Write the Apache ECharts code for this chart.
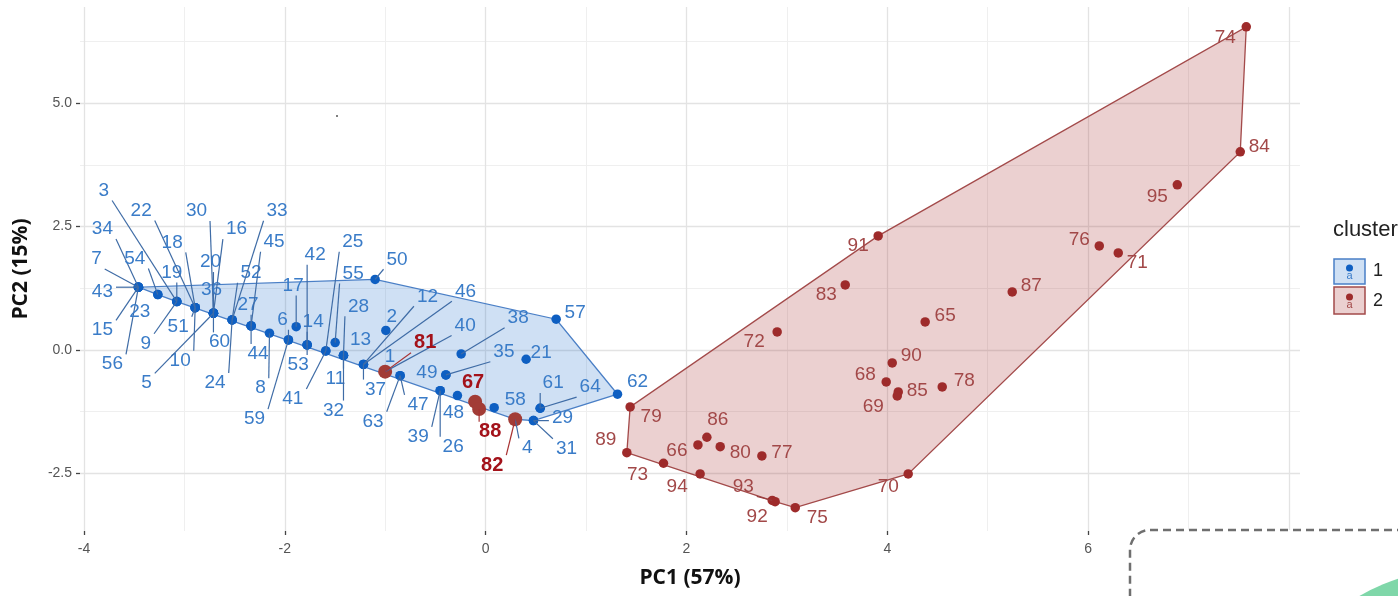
<!DOCTYPE html>
<html>
<head>
<meta charset="utf-8">
<script src="https://cdn.jsdelivr.net/npm/echarts@6/dist/echarts.min.js"></script>
<style>
  html, body { margin: 0; padding: 0; background: #fff; }
  #chart { width: 1398px; height: 596px; }
</style>
</head>
<body>
<div id="chart"></div>
<script>
// PCA scores per sample: [sample id, PC1, PC2]
const cluster1 = [
  [43, -3.458, 1.271], [7, -3.458, 1.271], [34, -3.458, 1.271], [15, -3.458, 1.271], [56, -3.458, 1.271],
  [54, -3.265, 1.121], [23, -3.265, 1.121],
  [3, -3.076, 0.979], [19, -3.076, 0.979], [9, -3.076, 0.979],
  [22, -2.893, 0.857], [18, -2.893, 0.857], [51, -2.893, 0.857], [10, -2.893, 0.857],
  [30, -2.711, 0.744], [20, -2.711, 0.744], [36, -2.711, 0.744], [16, -2.711, 0.744], [5, -2.711, 0.744], [60, -2.711, 0.744],
  [52, -2.525, 0.608], [33, -2.525, 0.608], [24, -2.525, 0.608],
  [27, -2.336, 0.487], [45, -2.336, 0.487], [44, -2.336, 0.487],
  [8, -2.153, 0.339],
  [6, -1.964, 0.203], [59, -1.964, 0.203],
  [17, -1.887, 0.472],
  [14, -1.778, 0.101], [42, -1.778, 0.101], [53, -1.778, 0.101],
  [41, -1.592, -0.020], [25, -1.592, -0.020],
  [55, -1.499, 0.148],
  [28, -1.416, -0.111], [13, -1.416, -0.111], [11, -1.416, -0.111], [32, -1.416, -0.111],
  [12, -1.217, -0.294], [46, -1.217, -0.294], [37, -1.217, -0.294],
  [50, -1.101, 1.429],
  [2, -0.994, 0.395],
  [1, -1.001, -0.440], [40, -1.001, -0.440],
  [63, -0.852, -0.521], [47, -0.852, -0.521],
  [38, -0.244, -0.081],
  [49, -0.396, -0.507], [35, -0.396, -0.507],
  [39, -0.453, -0.825], [26, -0.453, -0.825],
  [48, -0.281, -0.926],
  [58, 0.085, -1.170],
  [4, 0.294, -1.405],
  [31, 0.476, -1.433], [29, 0.476, -1.433],
  [61, 0.543, -1.182], [64, 0.543, -1.182],
  [21, 0.403, -0.189],
  [57, 0.702, 0.622],
  [62, 1.313, -0.898]
];

const cluster2 = [
  [74, 7.575, 6.548], [84, 7.515, 4.014], [95, 6.888, 3.345], [76, 6.111, 2.108], [71, 6.300, 1.966],
  [91, 3.909, 2.311], [87, 5.244, 1.176], [83, 3.581, 1.318], [65, 4.377, 0.568], [72, 2.903, 0.365],
  [90, 4.049, -0.264], [68, 3.989, -0.649], [85, 4.109, -0.851], [69, 4.099, -0.933], [78, 4.547, -0.750],
  [79, 1.439, -1.155], [89, 1.406, -2.082], [73, 1.771, -2.297], [66, 2.114, -1.926], [86, 2.203, -1.770],
  [80, 2.336, -1.960], [77, 2.751, -2.149], [94, 2.136, -2.514], [93, 2.854, -3.051], [92, 2.883, -3.075],
  [75, 3.083, -3.197], [70, 4.208, -2.514]
];

// cluster-2 samples sitting inside the cluster-1 region, highlighted
const flagged = [
  [81, -1.001, -0.440], [67, -0.105, -1.048], [88, -0.065, -1.196], [82, 0.294, -1.405]
];

// axis breaks
const xTicks = [-4, -2, 0, 2, 4, 6, 8];
const xMinor = [-3, -1, 1, 3, 5, 7];
const yTicks = [-2.5, 0, 2.5, 5];
const yMinor = [-1.25, 1.25, 3.75, 6.25];

// repelled label placement: pixel offset of each label centre from its point
const labelOffset = {
  1: [5, -15], 2: [6, -14], 3: [-73, -111], 4: [12, 29], 5: [-67, 70], 6: [-6, -20], 7: [-42, -28],
  8: [-9, 55], 9: [-31, 42], 10: [-15, 53], 11: [-8, 23], 12: [64, -68], 13: [17, -16], 14: [6, -23],
  15: [-36, 43], 16: [23, -84], 17: [-3, -41], 18: [-23, -65], 19: [-5, -29], 20: [-3, -51], 21: [15, -6],
  22: [-54, -97], 23: [-18, 17], 24: [-17, 63], 25: [27, -109], 26: [13, 56], 27: [-3, -21], 28: [15, -49],
  29: [29, -3], 30: [-17, -102], 31: [33, 28], 32: [-10, 55], 33: [45, -109], 34: [-36, -58], 35: [58, -23],
  36: [-2, -23], 37: [12, 25], 38: [57, -36], 39: [-22, 46], 40: [80, -46], 41: [-33, 48], 42: [8, -90],
  43: [-36, 5], 44: [7, 28], 45: [23, -84], 46: [102, -73], 47: [18, 29], 48: [-4, 17], 49: [-19, -2],
  50: [22, -20], 51: [-17, 19], 52: [19, -47], 53: [-9, 20], 54: [-23, -36], 55: [18, -69], 56: [-26, 77],
  57: [19, -6], 58: [21, -8], 59: [-34, 79], 60: [6, 29], 61: [13, -25], 62: [20, -12], 63: [-27, 46],
  64: [50, -21],
  81: [40, -29], 67: [-2, -19], 88: [11, 23], 82: [-23, 46],
  74: [-21, 11], 84: [19, -5], 95: [-20, 12], 76: [-20, -6], 71: [19, 10], 91: [-20, 10], 87: [19, -6],
  83: [-19, 10], 65: [20, -6], 72: [-23, 10], 90: [19, -7], 68: [-21, -7], 85: [19, -1], 78: [22, -6],
  69: [-24, 11], 79: [21, 10], 89: [-21, -13], 73: [-26, 12], 66: [-21, 6], 86: [11, -17], 80: [20, 6],
  77: [20, -3], 94: [-23, 13], 93: [-29, -14], 92: [-18, 15], 75: [22, 10], 70: [-20, 13]
};

const BLUE = '#0e5fc2';
const RED = '#9e2b2b';
const FONT = '"Liberation Sans", Arial, sans-serif';
const TITLE_FONT = '"Open Sans", Arial, sans-serif';

// Andrew's monotone chain convex hull
function convexHull(pts) {
  const p = pts.slice().sort((a, b) => a[0] - b[0] || a[1] - b[1]);
  const cross = (o, a, b) => (a[0] - o[0]) * (b[1] - o[1]) - (a[1] - o[1]) * (b[0] - o[0]);
  const lower = [], upper = [];
  for (const q of p) {
    while (lower.length >= 2 && cross(lower[lower.length - 2], lower[lower.length - 1], q) <= 0) lower.pop();
    lower.push(q);
  }
  for (let i = p.length - 1; i >= 0; i--) {
    const q = p[i];
    while (upper.length >= 2 && cross(upper[upper.length - 2], upper[upper.length - 1], q) <= 0) upper.pop();
    upper.push(q);
  }
  upper.pop(); lower.pop();
  return lower.concat(upper);
}

function hullSeries(rows, fill, stroke) {
  const hull = convexHull(rows.map(r => [r[1], r[2]]));
  return {
    type: 'custom', silent: true, z: 1, clip: false,
    data: hull,
    renderItem(params, api) {
      if (params.dataIndex !== 0) return null;
      return {
        type: 'polygon',
        shape: { points: hull.map(v => api.coord(v)) },
        style: { fill: fill, stroke: stroke, lineWidth: 1.3 }
      };
    }
  };
}

function pointSeries(rows, color, size, z) {
  return {
    type: 'scatter', z: z, silent: true,
    symbol: 'circle', symbolSize: size,
    itemStyle: { color: color, opacity: 1 },
    data: rows.map(r => [r[1], r[2]])
  };
}

function labelSeries(rows, color, lineColor, fontSize, fontWeight, minSeg) {
  return {
    type: 'custom', silent: true, z: 6, clip: false,
    data: rows.map(r => [r[1], r[2], r[0]]),
    renderItem(params, api) {
      const p = api.coord([api.value(0), api.value(1)]);
      const id = api.value(2);
      const off = labelOffset[id] || [0, -14];
      const cx = p[0] + off[0], cy = p[1] + off[1];
      const txt = String(id);
      const hw = txt.length * fontSize * 0.556 / 2 + 3;
      const hh = fontSize * 0.36 + 3;
      const nx = Math.max(cx - hw, Math.min(p[0], cx + hw));
      const ny = Math.max(cy - hh, Math.min(p[1], cy + hh));
      const children = [];
      if (Math.hypot(nx - p[0], ny - p[1]) > minSeg) {
        children.push({
          type: 'line',
          shape: { x1: p[0], y1: p[1], x2: nx, y2: ny },
          style: { stroke: lineColor, lineWidth: 1.2 }
        });
      }
      children.push({
        type: 'text', x: cx, y: cy,
        style: {
          text: txt, fill: color, fontSize: fontSize, fontWeight: fontWeight,
          fontFamily: FONT, align: 'center', verticalAlign: 'middle'
        }
      });
      return { type: 'group', children: children };
    }
  };
}

// panel grid lines (minor first, major on top), kept beneath every other layer
const gridLines = {
  type: 'scatter', z: 0, silent: true, data: [],
  markLine: {
    silent: true, z: 0, symbol: ['none', 'none'], label: { show: false }, animation: false,
    data: [
      ...xMinor.map(v => ({ xAxis: v, lineStyle: { color: '#efefef', width: 1, type: 'solid' } })),
      ...yMinor.map(v => ({ yAxis: v, lineStyle: { color: '#efefef', width: 1, type: 'solid' } })),
      ...xTicks.map(v => ({ xAxis: v, lineStyle: { color: '#e3e3e3', width: 1.3, type: 'solid' } })),
      ...yTicks.map(v => ({ yAxis: v, lineStyle: { color: '#e3e3e3', width: 1.3, type: 'solid' } }))
    ]
  }
};

const chart = echarts.init(document.getElementById('chart'), null, { renderer: 'canvas' });

chart.setOption({
  animation: false,
  backgroundColor: '#ffffff',
  grid: { left: 80, right: 98, top: 7, bottom: 65, containLabel: false },
  xAxis: {
    type: 'value', min: -4.04, max: 8.11,
    name: 'PC1 (57%)', nameLocation: 'middle', nameGap: 37,
    nameTextStyle: { fontFamily: TITLE_FONT, fontWeight: 'bold', fontSize: 21, color: '#111' },
    axisLine: { show: false, onZero: false },
    axisTick: { show: true, customValues: xTicks, length: 4, lineStyle: { color: '#444', width: 1.3 } },
    axisLabel: { customValues: xTicks, formatter: v => String(v), color: '#555', fontSize: 14, fontFamily: FONT, margin: 11 },
    splitLine: { show: false }
  },
  yAxis: {
    type: 'value', min: -3.67, max: 6.95,
    name: 'PC2 (15%)', nameLocation: 'middle', nameGap: 48, nameRotate: 90,
    nameTextStyle: { fontFamily: TITLE_FONT, fontWeight: 'bold', fontSize: 21, color: '#111' },
    axisLine: { show: false, onZero: false },
    axisTick: { show: true, customValues: yTicks, length: 4, lineStyle: { color: '#444', width: 1.3 } },
    axisLabel: { customValues: yTicks, formatter: v => v.toFixed(1), color: '#555', fontSize: 14, fontFamily: FONT, margin: 8 },
    splitLine: { show: false }
  },
  series: [
    gridLines,
    hullSeries(cluster1, 'rgba(16,100,200,0.2)', '#4a7fc6'),
    hullSeries(cluster2, 'rgba(165,42,42,0.22)', '#a34a4a'),
    pointSeries(cluster1, BLUE, 9.5, 3),
    pointSeries(cluster2, RED, 9.5, 3),
    pointSeries(flagged, '#a23c36', 14, 4),
    labelSeries(cluster1, '#3a7cc8', '#3f6ca6', 19, 'normal', 9),
    labelSeries(cluster2, '#a24848', '#9a3d3d', 19, 'normal', 14),
    labelSeries(flagged, '#a3121a', '#a83232', 20, 'bold', 9)
  ],
  graphic: [
    // legend
    { type: 'text', left: 1333, top: 219, style: { text: 'cluster', fill: '#222', fontSize: 22, fontFamily: FONT } },
    { type: 'rect', shape: { x: 1334, y: 259, width: 31, height: 25 }, style: { fill: 'rgba(16,100,200,0.2)', stroke: '#4a7fc6', lineWidth: 1.5 } },
    { type: 'circle', shape: { cx: 1349.5, cy: 268, r: 3.5 }, style: { fill: BLUE } },
    { type: 'text', x: 1349.5, y: 276, style: { text: 'a', fill: '#3a7cc8', fontSize: 11, fontFamily: FONT, align: 'center', verticalAlign: 'middle' } },
    { type: 'text', x: 1373, y: 271, style: { text: '1', fill: '#222', fontSize: 18, fontFamily: FONT, verticalAlign: 'middle' } },
    { type: 'rect', shape: { x: 1334, y: 287, width: 31, height: 27 }, style: { fill: 'rgba(165,42,42,0.22)', stroke: '#a34a4a', lineWidth: 1.5 } },
    { type: 'circle', shape: { cx: 1349.5, cy: 297, r: 3.5 }, style: { fill: RED } },
    { type: 'text', x: 1349.5, y: 305, style: { text: 'a', fill: '#a24848', fontSize: 11, fontFamily: FONT, align: 'center', verticalAlign: 'middle' } },
    { type: 'text', x: 1373, y: 301, style: { text: '2', fill: '#222', fontSize: 18, fontFamily: FONT, verticalAlign: 'middle' } },
    // stray mark near the top
    { type: 'circle', shape: { cx: 337, cy: 116, r: 1 }, style: { fill: '#555' } },
    // dashed overlay panel in the lower-right corner
    { type: 'rect', z: 100, shape: { x: 1130, y: 530, width: 320, height: 120, r: 20 },
      style: { fill: '#ffffff', stroke: '#6f6f6f', lineWidth: 2.5, lineDash: [8, 5] } },
    { type: 'circle', z: 101, shape: { cx: 1460, cy: 770, r: 201 }, style: { fill: '#7fd7a9' } }
  ]
});
</script>
</body>
</html>
